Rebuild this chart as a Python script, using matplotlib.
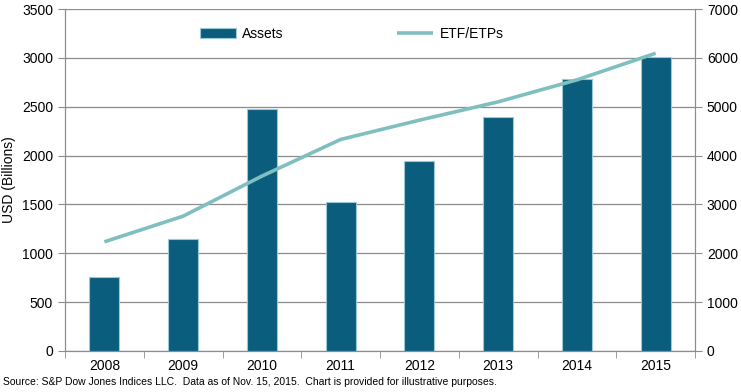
import matplotlib
matplotlib.use("Agg")
import matplotlib.pyplot as plt
import numpy as np

plt.rcParams['font.family'] = ['Liberation Sans', 'DejaVu Sans']

# data
years = ['2008', '2009', '2010', '2011', '2012', '2013', '2014', '2015']
assets = [760, 1150, 2480, 1520, 1940, 2395, 2780, 3005]
etf_count = [2235, 2760, 3580, 4330, 4725, 5100, 5550, 6095]

bar_color = '#0B5D7E'
line_color = '#80BFC0'
grid_color = '#8C8C8C'

fig = plt.figure(figsize=(7.41, 3.92), dpi=100)
ax = fig.add_axes([0.0877, 0.1046, 0.8503, 0.8724])
ax2 = ax.twinx()

x = np.arange(len(years))
ax.bar(x, assets, 0.38, color=bar_color, edgecolor='#9CC8D6', linewidth=0.8,
       label='Assets', zorder=3)
ax2.plot(x, etf_count, color=line_color, linewidth=2.6, label='ETF/ETPs',
         solid_capstyle='butt')

ax.set_xlim(-0.5, len(years) - 0.5)
ax.set_ylim(0, 3500)
ax.set_yticks(np.arange(0, 3501, 500))
ax2.set_ylim(0, 7000)
ax2.set_yticks(np.arange(0, 7001, 1000))

ax.yaxis.grid(True, color=grid_color, linewidth=0.9, zorder=0)
ax.set_axisbelow(True)

# ticks at category boundaries, labels centered under bars
ax.set_xticks(x)
ax.set_xticklabels(years)
ax.tick_params(axis='x', length=0, labelsize=10, pad=6)
ax.set_xticks(np.arange(-0.5, len(years)), minor=True)
ax.tick_params(axis='x', which='minor', length=5, color=grid_color, direction='out')
ax.tick_params(axis='y', length=5, color=grid_color, labelsize=10)
ax2.tick_params(axis='y', length=5, color=grid_color, labelsize=10)

for a in (ax, ax2):
    a.spines['top'].set_visible(False)
    for s in ('left', 'right', 'bottom'):
        a.spines[s].set_color(grid_color)

ax.set_ylabel('USD (Billions)', fontsize=10, labelpad=4)

h1, l1 = ax.get_legend_handles_labels()
h2, l2 = ax2.get_legend_handles_labels()
ax2.legend(h1 + h2, l1 + l2, loc='upper center', bbox_to_anchor=(0.455, 0.985),
           ncol=2, frameon=False, fontsize=10, columnspacing=8.2,
           handlelength=2.6, handletextpad=0.45)

fig.text(0.004, 0.012, 'Source: S&P Dow Jones Indices LLC.  Data as of Nov. 15, 2015.  '
         'Chart is provided for illustrative purposes.', fontsize=7.5, ha='left', va='bottom')

fig.savefig('out.png', dpi=100)
